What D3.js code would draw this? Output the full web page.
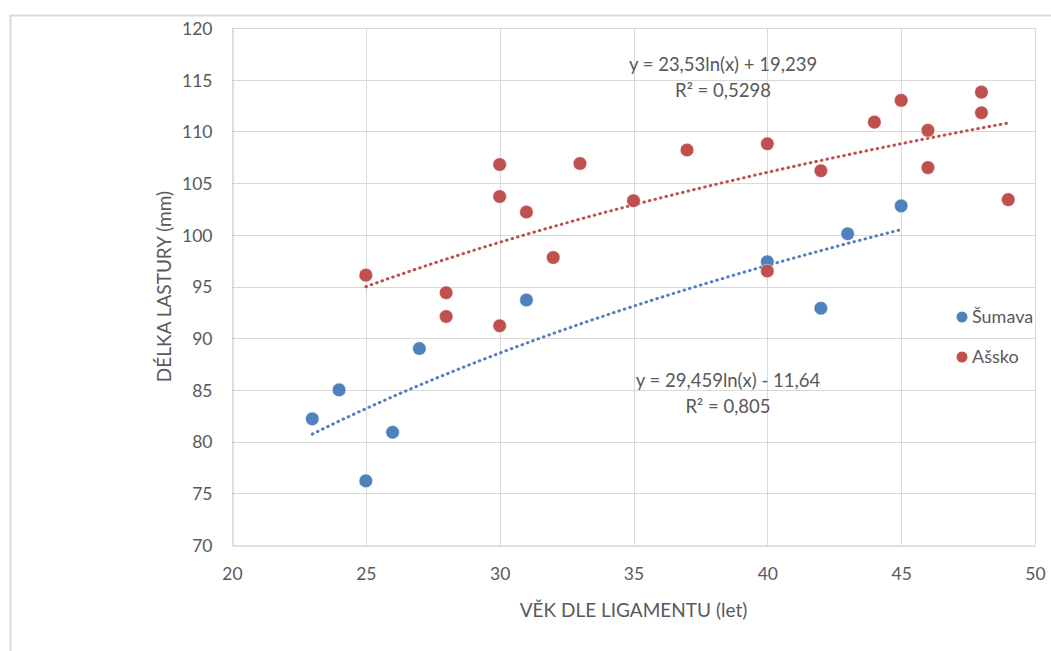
<html>
<head>
  <script src="https://d3js.org/d3.v7.min.js"></script>
  <style>
    body { margin: 0; background: #fff; }
    text { font-family: Lato, "Open Sans", sans-serif; fill: #595959; }
  </style>
</head>
<body>
  <div id="plot"></div>
  <script>

    // Šumava
    var sumavaAge = [23, 24, 25, 26, 27, 31, 40, 42, 43, 45];
    var sumavaLen = [82.2, 85.0, 76.2, 80.9, 89.0, 93.7, 97.4, 92.9, 100.1, 102.8];

    // Ašsko
    var asskoAge = [25, 28, 28, 30, 30, 30, 31, 32, 33, 35, 37, 40, 40, 42, 44, 45, 46, 46, 48, 48, 49];
    var asskoLen = [96.1, 94.4, 92.1, 91.2, 103.7, 106.8, 102.2, 97.8, 106.9, 103.3, 108.2, 108.8, 96.5, 106.2, 110.9, 113.0, 110.1, 106.5, 113.8, 111.8, 103.4];

    // log trend lines  y = a*ln(x) + b
    var seriesNames = ["Šumava", "Ašsko"];
    var seriesColors = ["#4F81BD", "#C0504D"];
    var trendA = [29.459, 23.53];
    var trendB = [-11.64, 19.239];
    var trendLabel = ["y = 29,459ln(x) - 11,64", "y = 23,53ln(x) + 19,239"];
    var r2Label = ["R² = 0,805", "R² = 0,5298"];

    var xTicks = [20, 25, 30, 35, 40, 45, 50];
    var yTicks = [70, 75, 80, 85, 90, 95, 100, 105, 110, 115, 120];

    var W = 1051, H = 651;
    var pLeft = 232, pRight = 1035, pTop = 28, pBottom = 545;

    var svg = d3.select('#plot').append("svg")
      .attr("width", W)
      .attr("height", H);

    // outer chart frame
    svg.append("path")
      .attr("d", "M10.5," + H + "V15.5H" + W)
      .attr("fill", "none")
      .attr("stroke", "#D9D9D9")
      .attr("stroke-width", 2);

    var x = d3.scaleLinear().domain([20, 50]).range([pLeft, pRight]);
    var y = d3.scaleLinear().domain([70, 120]).range([pBottom, pTop]);

    // gridlines
    svg.append("g").selectAll("line").data(yTicks.slice(1)).enter()
      .append("line")
      .attr("x1", pLeft).attr("x2", pRight)
      .attr("y1", function(d) { return Math.round(y(d)) + 0.5; })
      .attr("y2", function(d) { return Math.round(y(d)) + 0.5; })
      .attr("stroke", "#D9D9D9");
    svg.append("g").selectAll("line").data(xTicks.slice(1)).enter()
      .append("line")
      .attr("y1", pTop).attr("y2", pBottom)
      .attr("x1", function(d) { return Math.round(x(d)) + 0.5; })
      .attr("x2", function(d) { return Math.round(x(d)) + 0.5; })
      .attr("stroke", "#D9D9D9");

    // axes
    var xAxis = d3.axisBottom(x).tickValues(xTicks).tickSize(0).tickPadding(22);
    var yAxis = d3.axisLeft(y).tickValues(yTicks).tickSize(0).tickPadding(20);

    var gx = svg.append("g")
      .attr("transform", "translate(0," + (pBottom + 0.5) + ")")
      .call(xAxis);
    var gy = svg.append("g")
      .attr("transform", "translate(" + (pLeft + 0.5) + ",0)")
      .call(yAxis);
    [gx, gy].forEach(function(g) {
      g.select(".domain").attr("stroke", "#BFBFBF");
      g.selectAll("text").style("font-size", "17.5px").attr("fill", "#595959");
    });
    gy.selectAll("text").attr("dy", "0.36em");

    // axis titles
    svg.append("text")
      .attr("x", (pLeft + pRight) / 2)
      .attr("y", 617)
      .attr("text-anchor", "middle")
      .style("font-size", "19px")
      .text("VĚK DLE LIGAMENTU (let)");

    svg.append("text")
      .attr("transform", "rotate(-90)")
      .attr("x", -(pTop + pBottom) / 2)
      .attr("y", 171)
      .attr("text-anchor", "middle")
      .style("font-size", "19px")
      .text("DÉLKA LASTURY (mm)");

    // trend lines
    var ages = [sumavaAge, asskoAge];
    var lens = [sumavaLen, asskoLen];

    var line = d3.line()
      .x(function(d) { return x(d[0]); })
      .y(function(d) { return y(d[1]); });

    ages.forEach(function(a, i) {
      var ext = d3.extent(a);
      var pts = d3.range(0, 61).map(function(k) {
        var v = ext[0] + (ext[1] - ext[0]) * k / 60;
        return [v, trendA[i] * Math.log(v) + trendB[i]];
      });
      svg.append("path")
        .attr("d", line(pts))
        .attr("fill", "none")
        .attr("stroke", seriesColors[i])
        .attr("stroke-width", 3)
        .attr("stroke-linecap", "round")
        .attr("stroke-dasharray", "0.6 5.1");
    });

    // points: Šumava first, then Ašsko on top
    ages.forEach(function(a, i) {
      svg.append("g").selectAll("circle")
        .data(a.map(function(v, j) { return [v, lens[i][j]]; }))
        .enter().append("circle")
        .attr("cx", function(d) { return x(d[0]); })
        .attr("cy", function(d) { return y(d[1]); })
        .attr("r", 6.8)
        .attr("fill", seriesColors[i])
        .attr("stroke", "#fff")
        .attr("stroke-opacity", 0.6)
        .attr("stroke-width", 0.8);
    });

    // trend labels
    var labelPos = [[728, 387], [723, 71]];
    labelPos.forEach(function(p, i) {
      svg.append("text")
        .attr("x", p[0]).attr("y", p[1])
        .attr("text-anchor", "middle")
        .style("font-size", "18.5px")
        .text(trendLabel[i]);
      svg.append("text")
        .attr("x", p[0]).attr("y", p[1] + 26)
        .attr("text-anchor", "middle")
        .style("font-size", "18.5px")
        .text(r2Label[i]);
    });

    // legend
    var legend = svg.append("g").selectAll("g").data(seriesNames).enter()
      .append("g")
      .attr("transform", function(d, i) { return "translate(962," + (317 + i * 40) + ")"; });
    legend.append("circle")
      .attr("r", 5.5)
      .attr("fill", function(d, i) { return seriesColors[i]; });
    legend.append("text")
      .attr("x", 10)
      .attr("dy", "0.36em")
      .style("font-size", "18px")
      .text(function(d) { return d; });

  </script>
</body>
</html>
